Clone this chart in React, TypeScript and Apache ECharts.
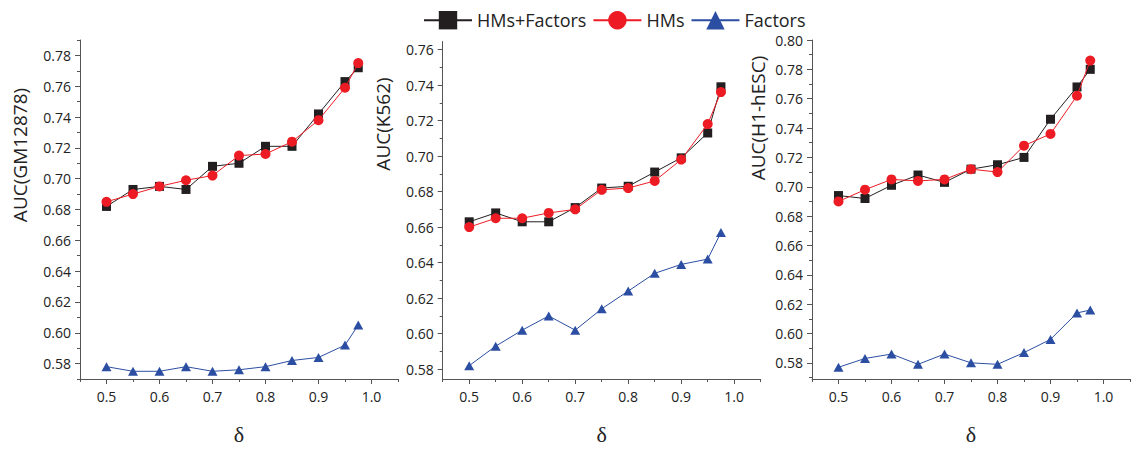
import React, { useEffect, useRef } from "react";
import * as echarts from "echarts";

// ---- data ----
const delta = [0.5, 0.55, 0.6, 0.65, 0.7, 0.75, 0.8, 0.85, 0.9, 0.95, 0.975];

const hmsFactorsGM = [0.682, 0.693, 0.695, 0.693, 0.708, 0.71, 0.721, 0.721, 0.742, 0.763, 0.772];
const hmsGM = [0.685, 0.69, 0.695, 0.699, 0.702, 0.715, 0.716, 0.724, 0.738, 0.759, 0.775];
const factorsGM = [0.578, 0.575, 0.575, 0.578, 0.575, 0.576, 0.578, 0.582, 0.584, 0.592, 0.605];

const hmsFactorsK = [0.663, 0.668, 0.663, 0.663, 0.671, 0.682, 0.683, 0.691, 0.699, 0.713, 0.739];
const hmsK = [0.66, 0.665, 0.665, 0.668, 0.67, 0.681, 0.682, 0.686, 0.698, 0.718, 0.736];
const factorsK = [0.582, 0.593, 0.602, 0.61, 0.602, 0.614, 0.624, 0.634, 0.639, 0.642, 0.657];

const hmsFactorsH = [0.694, 0.692, 0.701, 0.708, 0.703, 0.712, 0.715, 0.72, 0.746, 0.768, 0.78];
const hmsH = [0.69, 0.698, 0.705, 0.704, 0.705, 0.712, 0.71, 0.728, 0.736, 0.762, 0.786];
const factorsH = [0.577, 0.583, 0.586, 0.579, 0.586, 0.58, 0.579, 0.587, 0.596, 0.614, 0.616];

const seriesNames = ["HMs+Factors", "HMs", "Factors"];
const panelNames = ["AUC(GM12878)", "AUC(K562)", "AUC(H1-hESC)"];
const xAxisName = "δ";

// tick labels
const xMajorTicks = [0.5, 0.6, 0.7, 0.8, 0.9, 1.0];
const xMinorTicks = [0.45, 0.5, 0.55, 0.6, 0.65, 0.7, 0.75, 0.8, 0.85, 0.9, 0.95, 1.0, 1.05];
const yMajorGM = [0.58, 0.6, 0.62, 0.64, 0.66, 0.68, 0.7, 0.72, 0.74, 0.76, 0.78];
const yMajorK = [0.58, 0.6, 0.62, 0.64, 0.66, 0.68, 0.7, 0.72, 0.74, 0.76];
const yMajorH = [0.58, 0.6, 0.62, 0.64, 0.66, 0.68, 0.7, 0.72, 0.74, 0.76, 0.78, 0.8];

const COLORS = ["#231f20", "#ed1c24", "#2b4ea2"];
const SYMBOLS = ["rect", "circle", "triangle"];
const SYMBOL_SIZES: any[] = [9, 10, [10, 9]];

const FONT = "'Open Sans', 'Noto Sans', sans-serif";

function minorOf(major: number[], min: number, max: number) {
  const out: number[] = [];
  major.forEach((m) => {
    [m - 0.01, m, m + 0.01].forEach((v) => {
      const r = Number(v.toFixed(2));
      if (r >= min - 1e-9 && r <= max + 1e-9 && out.indexOf(r) < 0) out.push(r);
    });
  });
  return out.sort((a, b) => a - b);
}

export default function App() {
  const ref = useRef<HTMLDivElement>(null);

  useEffect(() => {
    if (!ref.current) return;
    const chart = echarts.init(ref.current, undefined, { renderer: "svg" });

    const panels = [
      { grid: { left: 80, top: 40, width: 318, height: 340 }, yMin: 0.57, yMax: 0.79, major: yMajorGM, data: [hmsFactorsGM, hmsGM, factorsGM], name: panelNames[0], nameX: 20, nameY: 155 },
      { grid: { left: 442.7, top: 41.5, width: 318, height: 338.5 }, yMin: 0.5745, yMax: 0.7645, major: yMajorK, data: [hmsFactorsK, hmsK, factorsK], name: panelNames[1], nameX: 383, nameY: 124 },
      { grid: { left: 812, top: 40, width: 318, height: 340 }, yMin: 0.569, yMax: 0.8, major: yMajorH, data: [hmsFactorsH, hmsH, factorsH], name: panelNames[2], nameX: 758, nameY: 118 },
    ];

    const axisColor = "#555";
    const labelColor = "#222";

    const grids: any[] = [];
    const xAxes: any[] = [];
    const yAxes: any[] = [];
    const series: any[] = [];
    const graphics: any[] = [];

    panels.forEach((p, i) => {
      grids.push({ ...p.grid, containLabel: false });
      // minor-tick x axis (with axis line)
      xAxes.push({
        type: "value", gridIndex: i, position: "bottom", min: 0.45, max: 1.05,
        axisLine: { show: true, onZero: false, lineStyle: { color: axisColor, width: 1 } },
        axisTick: { show: true, inside: false, length: 3, customValues: xMinorTicks, lineStyle: { color: axisColor } },
        axisLabel: { show: false }, splitLine: { show: false },
      });
      // major-tick x axis (labels + name)
      xAxes.push({
        type: "value", gridIndex: i, position: "bottom", min: 0.45, max: 1.05,
        axisLine: { show: false, onZero: false },
        axisTick: { show: true, inside: false, length: 5, customValues: xMajorTicks, lineStyle: { color: axisColor } },
        axisLabel: { show: true, customValues: xMajorTicks, margin: 10, fontSize: 14, fontFamily: FONT, color: labelColor, formatter: (v: number) => v.toFixed(1) },
        splitLine: { show: false },
        name: xAxisName, nameLocation: "middle", nameGap: 44,
        nameTextStyle: { fontFamily: "'Liberation Serif', 'DejaVu Serif', serif", fontSize: 22, color: labelColor },
      });
      const minor = minorOf(p.major, p.yMin, p.yMax);
      yAxes.push({
        type: "value", gridIndex: i, position: "left", min: p.yMin, max: p.yMax,
        axisLine: { show: true, onZero: false, lineStyle: { color: axisColor, width: 1 } },
        axisTick: { show: true, inside: false, length: 3, customValues: minor, lineStyle: { color: axisColor } },
        axisLabel: { show: false }, splitLine: { show: false },
      });
      yAxes.push({
        type: "value", gridIndex: i, position: "left", min: p.yMin, max: p.yMax,
        axisLine: { show: false, onZero: false },
        axisTick: { show: true, inside: false, length: 5, customValues: p.major, lineStyle: { color: axisColor } },
        axisLabel: { show: true, customValues: p.major, margin: 9, fontSize: 14, fontFamily: FONT, color: labelColor, formatter: (v: number) => v.toFixed(2) },
        splitLine: { show: false },
      });
      p.data.forEach((vals, k) => {
        series.push({
          type: "line",
          name: seriesNames[k],
          xAxisIndex: i * 2 + 1,
          yAxisIndex: i * 2 + 1,
          data: delta.map((d, j) => [d, vals[j]]),
          symbol: SYMBOLS[k],
          symbolSize: SYMBOL_SIZES[k],
          showSymbol: true,
          color: COLORS[k],
          lineStyle: { color: COLORS[k], width: 1 },
          itemStyle: { color: COLORS[k] },
          z: 2 + k,
        });
      });
      graphics.push({
        type: "text",
        x: p.nameX,
        y: p.nameY,
        rotation: Math.PI / 2,
        style: { text: p.name, fontSize: 19, fontFamily: FONT, fill: labelColor, textAlign: "center", textVerticalAlign: "middle" },
      });
    });

    chart.setOption({
      animation: false,
      backgroundColor: "#ffffff",
      legend: {
        data: seriesNames,
        left: 418,
        top: 6,
        itemWidth: 48,
        itemHeight: 23,
        itemGap: 6,
        textStyle: { fontSize: 18, fontFamily: FONT, color: labelColor },
      },
      grid: grids,
      xAxis: xAxes,
      yAxis: yAxes,
      series,
      graphic: graphics,
    });

    return () => chart.dispose();
  }, []);

  return (
    <div
      ref={ref}
      style={{ position: "fixed", left: 0, top: 0, width: 1135, height: 450, background: "#fff" }}
    />
  );
}
